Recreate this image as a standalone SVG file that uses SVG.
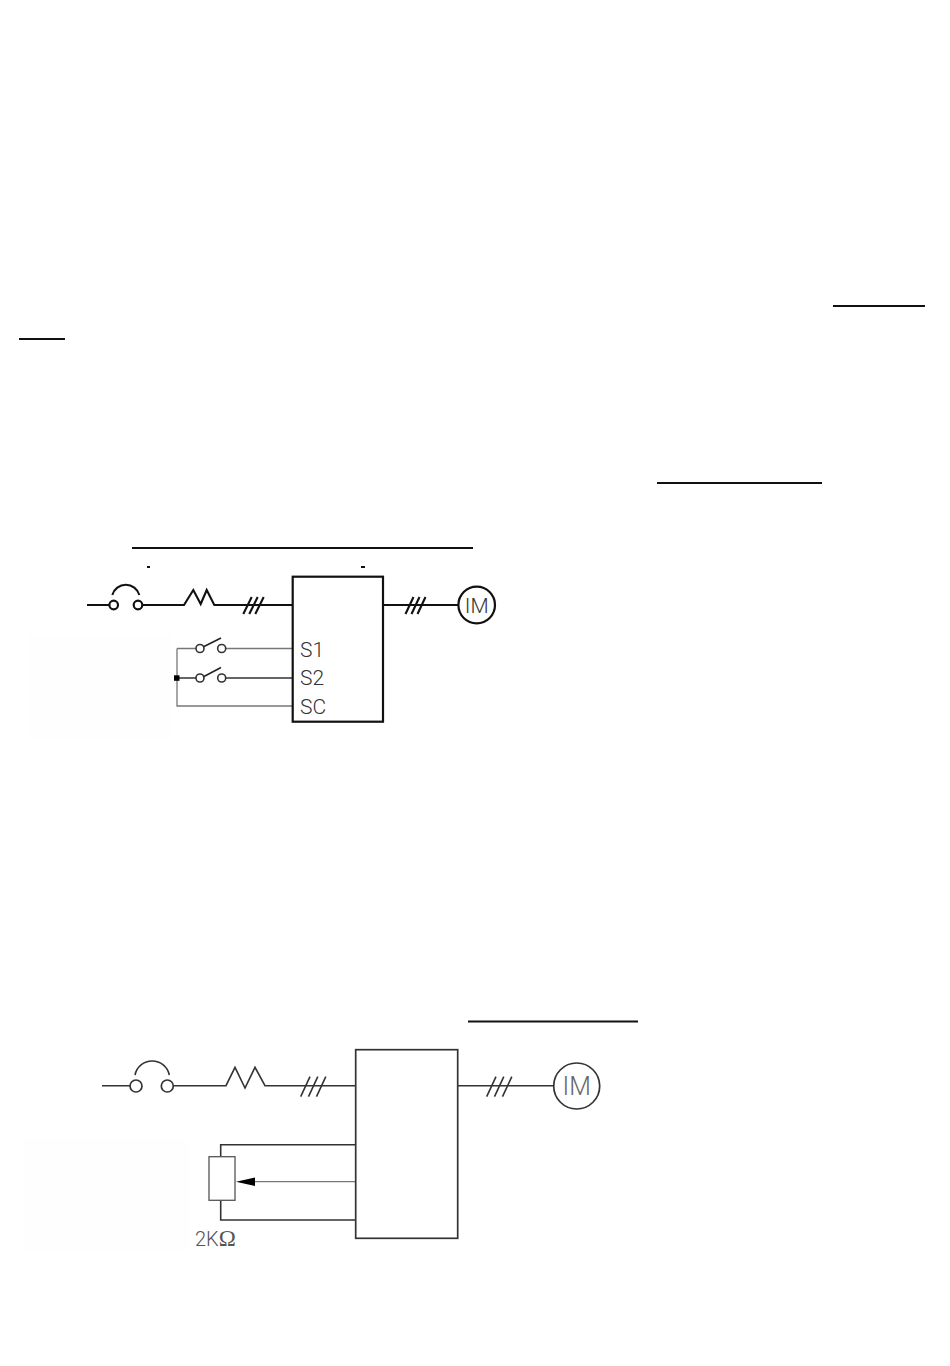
<svg xmlns="http://www.w3.org/2000/svg" width="950" height="1366" viewBox="0 0 950 1366">
<style>
.w{fill:none;stroke:#222;stroke-width:1.5}
.t{fill:none;stroke:#111;stroke-width:2.100}
.g{fill:none;stroke:#777;stroke-width:1.3}
.d{fill:none;stroke:#333;stroke-width:1.6}
.b{fill:#fff;stroke:#111;stroke-width:2.200}
.b2{fill:#fff;stroke:#333;stroke-width:1.7}
.rule{stroke:#111;stroke-width:2}
text{font-family:Roboto,"Liberation Sans",Arial,sans-serif;font-weight:300;fill:#333}
</style>
<rect width="950" height="1366" fill="#fff"/>
<rect x="28" y="635" width="144" height="105" fill="#fefefe"/>
<rect x="24" y="1138" width="166" height="112" fill="#fefefe"/>
<g id="rules">
<line class="rule" x1="833" y1="306" x2="925" y2="306"/>
<line class="rule" x1="19" y1="339" x2="65" y2="339"/>
<line class="rule" x1="657" y1="483" x2="822" y2="483"/>
<line class="rule" x1="132" y1="548" x2="473" y2="548"/>
<line class="rule" x1="147" y1="567" x2="150" y2="567"/>
<line class="rule" x1="361" y1="567" x2="365" y2="567"/>
<line class="rule" x1="468" y1="1021.500" x2="638" y2="1021.500"/>
</g>
<g id="connectors">
<path class="t" d="M87 605H109.500M142 605H184L193.300 590L200.700 604L206.700 590L214.300 605H292.700"/>
<path class="t" d="M243.300 614L251.700 597M249.300 614L257.700 597M255.300 614L263.700 597"/>
<path class="t" d="M383 605H458"/>
<path class="t" d="M405.500 614L413.500 597M411.500 614L419.500 597M417.500 614L425.500 597"/>
<path class="g" d="M177 648.500V706H292.700M177 648.500H196M226 648.500H292.700"/>
<path class="d" d="M177 678H196M226 678H292.700"/>
<path class="w" d="M203 647L221 638M203 677L221 667.500"/>
<path class="d" d="M102 1085.700H130M173.500 1085.700H226L235 1067.300L245 1088L255 1067.300L265 1085.700H355.700"/>
<path class="d" d="M300.700 1096.700L310 1076.700M308.500 1096.700L317.800 1076.700M316.500 1096.700L325.800 1076.700"/>
<path class="d" d="M457.700 1085.700H553.700"/>
<path class="d" d="M486.700 1096.700L496 1076.700M494.500 1096.700L503.800 1076.700M502.500 1096.700L511.800 1076.700"/>
<path class="d" d="M220.700 1156.700V1144.700H355.700M220.700 1200.300V1220H355.700"/>
<path class="g" d="M250 1181.700H355.700"/>
</g>
<g id="breaker-1"><path class="t" d="M112.300 595A14 14 0 0 1 139.300 595"/><circle class="b" cx="113.700" cy="605" r="4.300"/><circle class="b" cx="138" cy="605" r="4.300"/></g>
<g id="inverter-1"><rect class="b" x="292.700" y="576.700" width="90.300" height="145"/>
<text x="300" y="656.500" font-size="21">S1</text><text x="300" y="685" font-size="21">S2</text><text x="300" y="713.500" font-size="21">SC</text></g>
<g id="motor-1"><circle class="b" cx="476.700" cy="605" r="18.300"/><text x="476.700" y="612.500" font-size="21" text-anchor="middle">IM</text></g>
<g id="switch-s1"><circle class="d" cx="200" cy="648.500" r="4"/><circle class="d" cx="221.700" cy="648.500" r="4"/></g>
<g id="switch-s2"><circle class="d" cx="200" cy="678" r="4"/><circle class="d" cx="221.700" cy="678" r="4"/></g>
<g id="junction"><rect x="174" y="675.300" width="5.500" height="5.500" fill="#000"/></g>
<g id="breaker-2"><path class="d" d="M135 1075A17.500 17.500 0 0 1 169.300 1075"/><circle class="b2" cx="136" cy="1086" r="6"/><circle class="b2" cx="167.300" cy="1086" r="6"/></g>
<g id="inverter-2"><rect class="b2" x="355.700" y="1049.700" width="102" height="188.600"/></g>
<g id="motor-2"><circle class="b2" cx="576.700" cy="1086" r="23"/><text x="576.700" y="1095" font-size="25" text-anchor="middle" style="fill:#666">IM</text></g>
<g id="potentiometer"><rect x="209" y="1156.700" width="26" height="43.600" fill="#fff" stroke="#555" stroke-width="1.3"/>
<path d="M236 1181.700L255 1177.500V1186Z" fill="#000"/>
<text x="195" y="1246" font-size="20" style="fill:#555">2K<tspan font-family="'Liberation Serif',serif" font-size="23">Ω</tspan></text></g>
</svg>
